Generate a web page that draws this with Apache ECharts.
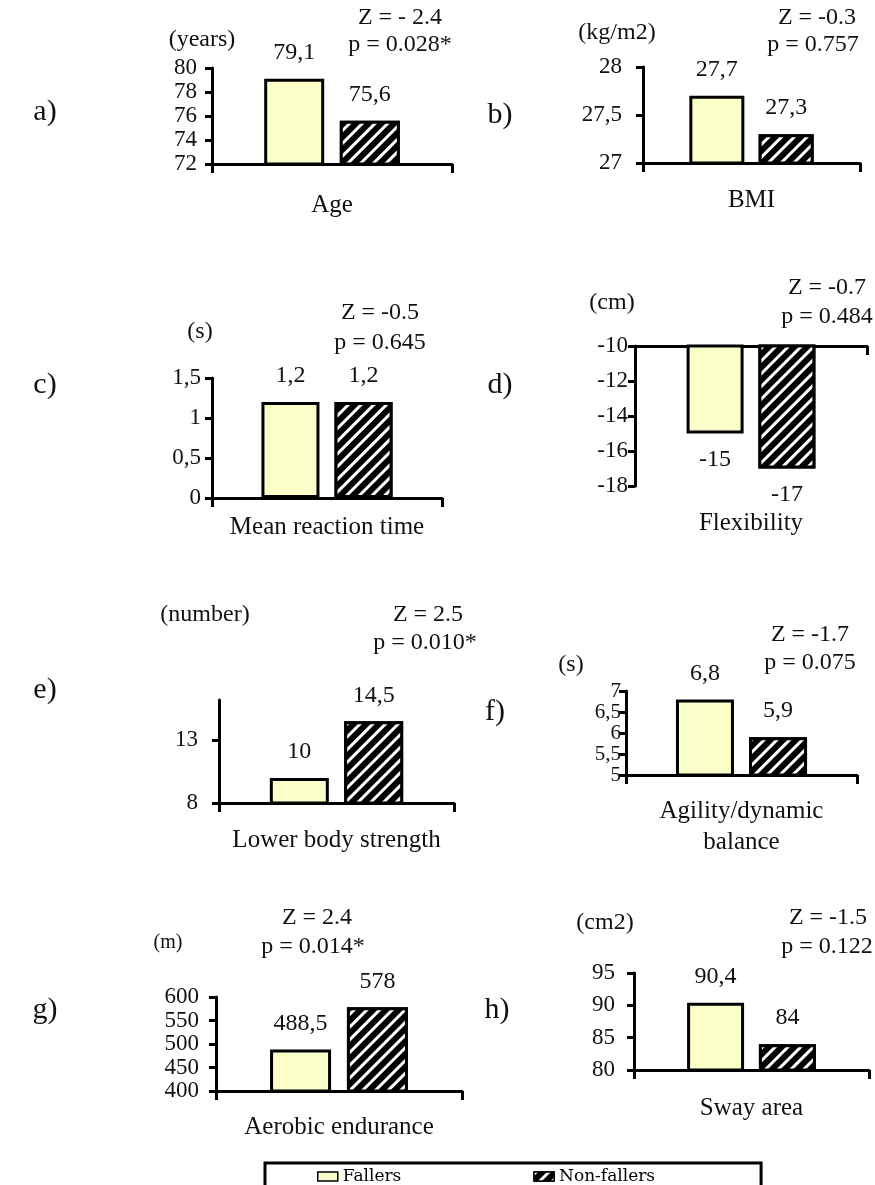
<!DOCTYPE html>
<html>
<head>
<meta charset="utf-8">
<script src="https://cdn.jsdelivr.net/npm/echarts@6/dist/echarts.min.js"></script>
<style>
html,body{margin:0;padding:0;background:#fff;}
#chart{width:875px;height:1185px;}
</style>
</head>
<body>
<div id="chart"></div>
<script>
// ---- data ----
const categories = ['Age', 'BMI', 'Mean reaction time', 'Flexibility', 'Lower body strength', 'Agility/dynamic\nbalance', 'Aerobic endurance', 'Sway area'];
const seriesNames = ['Fallers', 'Non-fallers'];
const fallers = [79.1, 27.7, 1.2, -15, 10, 6.8, 488.5, 90.4];
const nonFallers = [75.6, 27.3, 1.2, -17, 14.5, 5.9, 578, 84];
const zStats = ['Z = - 2.4', 'Z = -0.3', 'Z = -0.5', 'Z = -0.7', 'Z = 2.5', 'Z = -1.7', 'Z = 2.4', 'Z = -1.5'];
const pValues = ['p = 0.028*', 'p = 0.757', 'p = 0.645', 'p = 0.484', 'p = 0.010*', 'p = 0.075', 'p = 0.014*', 'p = 0.122'];
const units = ['(years)', '(kg/m2)', '(s)', '(cm)', '(number)', '(s)', '(m)', '(cm2)'];
const panelLetters = ['a)', 'b)', 'c)', 'd)', 'e)', 'f)', 'g)', 'h)'];
const yMin = [72, 27, 0, -18, 8, 5, 400, 80];
const yMax = [80, 28, 1.5, -10, 16.2, 7, 600, 95];
const yTicks = [
  [72, 74, 76, 78, 80],
  [27, 27.5, 28],
  [0, 0.5, 1, 1.5],
  [-18, -16, -14, -12, -10],
  [8, 13],
  [5, 5.5, 6, 6.5, 7],
  [400, 450, 500, 550, 600],
  [80, 85, 90, 95]
];

// ---- layout (positions / sizes) ----
const L = [
  {left:212, top:68,  width:240, height:96,  bw:60, gap:41,  lm:15, unit:[202,40],  z:[400,18],  p:[400,45],  letter:[45,112]},
  {left:643, top:67,  width:217, height:96,  bw:55, gap:37,  lm:21, unit:[617,33],  z:[817,18],  p:[813,45],  letter:[500,115]},
  {left:212, top:378, width:230, height:120, bw:58, gap:29,  lm:11, unit:[200,332], z:[380,313], p:[380,343], letter:[45,385]},
  {left:635, top:346, width:232, height:140, bw:57, gap:-177,lm:7,  unit:[612,303], z:[827,288], p:[827,317], letter:[500,385], topAxis:true},
  {left:219, top:700, width:235, height:103, bw:59, gap:37,  lm:21, unit:[205,615], z:[428,615], p:[425,643], letter:[45,690]},
  {left:626, top:691, width:231, height:84,  bw:58, gap:52,  lm:5,  unit:[571,665], z:[810,635], p:[810,663], letter:[495,712], tickSize:21},
  {left:216, top:997, width:246, height:94,  bw:61, gap:36,  lm:17, unit:[168,943], z:[317,918], p:[313,947], letter:[45,1010], unitSize:20},
  {left:634, top:973, width:235, height:97,  bw:57, gap:38,  lm:19, unit:[605,923], z:[828,918], p:[827,947], letter:[497,1010]}
];

const FONT = 'Liberation Serif';
const TXT = '#111';
const fmt = v => String(v).replace('.', ',');

const grids = [], xAxes = [], yAxes = [], series = [], graphics = [];

L.forEach((g, i) => {
  grids.push({left: g.left, top: g.top, width: g.width, height: g.height, containLabel: false});
  xAxes.push({
    type: 'category', gridIndex: i, data: [categories[i]],
    position: g.topAxis ? 'top' : 'bottom',
    axisLine: {onZero: false, lineStyle: {color: '#000', width: 3}},
    axisTick: {show: true, inside: !!g.topAxis, length: 9, lineStyle: {color: '#000', width: 3}},
    axisLabel: {show: false},
    splitLine: {show: false},
    name: categories[i], nameLocation: 'middle', nameGap: g.gap,
    nameTextStyle: {fontFamily: FONT, fontSize: 25, color: TXT, verticalAlign: 'middle', lineHeight: 31}
  });
  const ts = g.tickSize || 23;
  yAxes.push({
    type: 'value', gridIndex: i, min: yMin[i], max: yMax[i],
    axisLine: {show: true, onZero: false, lineStyle: {color: '#000', width: 3}},
    axisTick: {show: true, length: 7, lineStyle: {color: '#000', width: 3}, customValues: yTicks[i]},
    axisLabel: {customValues: yTicks[i], formatter: fmt, margin: g.lm, fontFamily: FONT, fontSize: ts, lineHeight: ts - 1,
                color: TXT, showMinLabel: true, showMaxLabel: true, hideOverlap: false},
    splitLine: {show: false}
  });
  const labelPos = g.topAxis ? 'bottom' : 'top';
  [fallers, nonFallers].forEach((arr, s) => {
    series.push({
      type: 'bar', name: seriesNames[s], xAxisIndex: i, yAxisIndex: i,
      data: [arr[i]], barWidth: g.bw, barGap: '26%', clip: true,
      itemStyle: s === 0
        ? {color: '#fbffc8', borderColor: '#000', borderWidth: 3}
        : {color: '#000', borderColor: '#000', borderWidth: 3,
           decal: {symbol: 'rect', symbolSize: 1, dashArrayX: [1, 0], dashArrayY: [2.4, 5.4], rotation: -Math.PI / 4, color: '#fff'}},
      label: {show: true, position: labelPos, distance: 14, formatter: p => fmt(p.value),
              fontFamily: FONT, fontSize: 24, color: TXT},
      emphasis: {disabled: true}
    });
  });
  const t = (pos, text, size) => ({
    type: 'text', x: pos[0], y: pos[1], silent: true,
    style: {text: text, fontFamily: FONT, fontSize: size, fill: TXT, align: 'center', verticalAlign: 'middle'}
  });
  graphics.push(t(g.unit, units[i], g.unitSize || 24));
  graphics.push(t(g.z, zStats[i], 24));
  graphics.push(t(g.p, pValues[i], 24));
  graphics.push(t(g.letter, panelLetters[i], 30));
});

const chart = echarts.init(document.getElementById('chart'), null, {renderer: 'canvas'});
chart.setOption({
  animation: false,
  backgroundColor: '#fff',
  textStyle: {fontFamily: FONT},
  grid: grids,
  xAxis: xAxes,
  yAxis: yAxes,
  series: series,
  graphic: graphics,
  legend: {
    data: seriesNames, left: 265, top: 1163, orient: 'horizontal',
    icon: 'rect', itemWidth: 20, itemHeight: 9, itemGap: 132,
    padding: [5, 106, 30, 52],
    borderColor: '#000', borderWidth: 3, backgroundColor: '#fff',
    itemStyle: {borderWidth: 1.5},
    textStyle: {fontFamily: 'DejaVu Serif', fontSize: 17, color: '#000'},
    selectedMode: false
  }
});
</script>
</body>
</html>
